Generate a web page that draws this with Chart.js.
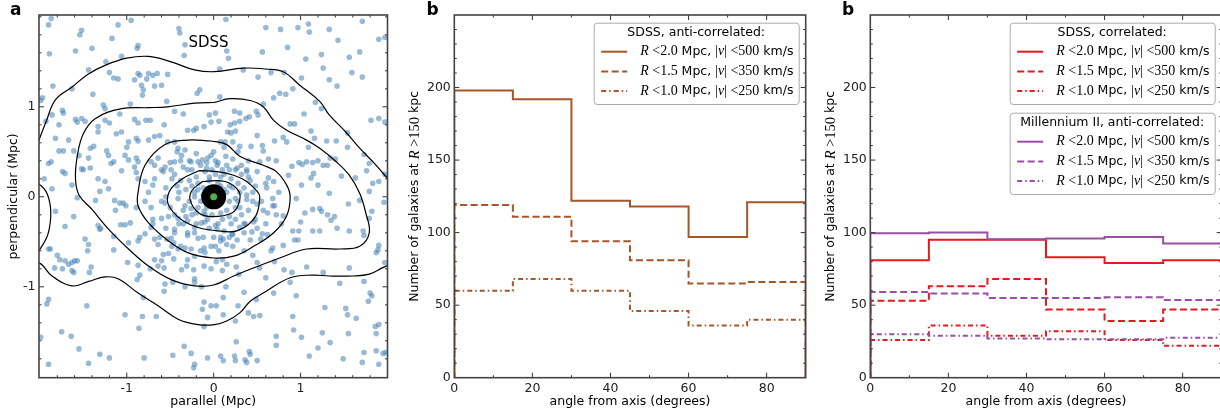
<!DOCTYPE html>
<html>
<head>
<meta charset="utf-8">
<script src="https://cdn.jsdelivr.net/npm/chart.js@4.4.1/dist/chart.umd.min.js"></script>
<style>
  html, body { margin: 0; padding: 0; background: #fff; overflow: hidden; width: 1220px; height: 414px; }
  canvas { position: absolute; top: 0; }
</style>
</head>
<body>
<canvas id="chartA" width="400" height="414" style="left:0"></canvas>
<canvas id="chartB" width="410" height="414" style="left:400px"></canvas>
<canvas id="chartC" width="420" height="414" style="left:810px"></canvas>
<script>
// ---- dados ----
const binEdges = [0, 15, 30, 45, 60, 75, 90];
const sdssAnti20 = [198, 192, 122, 118, 97, 121];
const sdssAnti15 = [119, 111, 94, 81, 65, 66];
const sdssAnti10 = [60, 68, 60, 46, 36, 40];
const sdssCorr20 = [81, 95, 95, 83, 79, 81];
const sdssCorr15 = [53, 63, 68, 47, 39, 47];
const sdssCorr10 = [26, 36, 29, 32, 26, 22];
const millAnti20 = [99.5, 100, 95.5, 96, 97, 92.5];
const millAnti15 = [59, 58, 55, 55, 55.5, 53.5];
const millAnti10 = [30, 29, 27, 26.5, 26.5, 27.5];

const angleTicks = [0, 20, 40, 60, 80];
const angleMinor = [10, 30, 50, 70, 90];
const countTicks = [0, 50, 100, 150, 200];
const countMinor = [10, 20, 30, 40, 60, 70, 80, 90, 110, 120, 130, 140, 160, 170, 180, 190, 210, 220, 230, 240, 250];
const mpcTicks = [-1, 0, 1];
const mpcMinor = [-2, -1.8, -1.6, -1.4, -1.2, -0.8, -0.6, -0.4, -0.2, 0.2, 0.4, 0.6, 0.8, 1.2, 1.4, 1.6, 1.8, 2];

// galáxias (parallel, perpendicular) em Mpc
const galaxies = [
  [-1.87,1.98],[-1.90,1.91],[-1.52,1.85],[-1.54,1.80],[-1.10,1.91],[-0.95,1.96],[-0.40,1.87],[-0.39,1.82],[-1.17,1.76],[-0.87,1.68],
  [-0.88,1.65],[-1.40,1.65],[-1.59,1.62],[-1.89,1.59],[-1.06,1.56],[-0.34,1.57],[-0.33,1.69],[-1.24,1.50],[-1.44,1.41],[-1.20,1.38],
  [-0.87,1.37],[-0.85,1.35],[-0.75,1.37],[-0.70,1.35],[-0.65,1.37],[-0.53,1.36],[-1.15,1.32],[-1.10,1.31],[-0.91,1.30],[-0.83,1.24],
  [-0.77,1.31],[-0.68,1.23],[-0.60,1.24],[-1.85,1.23],[-1.63,1.20],[-1.39,1.14],[-0.81,1.19],[-0.82,1.13],[-0.19,1.15],[-0.16,1.19],
  [-1.97,1.10],[-1.99,1.07],[-1.27,1.02],[-1.25,0.98],[-0.96,1.03],[-0.54,1.06],[-0.45,0.95],[-0.35,0.92],[-1.74,0.96],[-1.73,0.93],
  [-1.93,0.84],[-1.86,0.91],[-1.59,0.86],[-1.57,0.83],[-1.52,0.87],[-1.48,0.84],[-1.25,0.85],[-1.20,0.82],[-1.08,0.92],[-0.91,0.86],
  [-0.87,0.82],[-0.78,0.85],[-0.73,0.85],[-0.57,0.80],[-0.30,0.74],[-0.23,0.74],[-0.20,0.76],[-0.11,0.78],[-0.03,0.83],[-0.05,0.91],
  [-1.33,0.78],[-1.33,0.72],[-1.12,0.70],[-1.06,0.72],[-0.98,0.61],[-0.89,0.65],[-0.87,0.62],[-0.75,0.63],[-0.68,0.67],[-0.62,0.68],
  [-1.67,0.63],[-1.78,0.51],[-1.73,0.51],[-1.61,0.51],[-1.42,0.54],[-1.38,0.56],[-1.23,0.51],[-1.21,0.46],[-1.00,0.55],[-1.02,0.46],
  [-0.89,0.43],[-0.87,0.39],[-0.98,0.41],[-1.15,0.39],[-1.18,0.37],[-1.52,0.31],[-1.50,0.30],[-1.42,0.32],[-1.74,0.28],[-1.71,0.26],
  [-1.95,0.20],[-1.86,0.09],[-1.63,0.13],[-1.33,0.20],[-1.25,0.17],[-1.21,0.09],[-1.31,0.06],[-1.06,0.29],[-0.91,0.33],[-0.89,0.27],
  [-0.87,0.20],[-0.79,0.17],[-0.68,0.20],[-0.70,0.13],[-0.56,0.33],[-0.58,0.28],[-0.49,0.30],[-0.45,0.39],[-0.37,0.46],[-0.33,0.52],
  [-0.41,0.54],[-0.53,0.61],[-0.45,0.61],[-0.26,0.39],[-0.18,0.39],[-0.13,0.41],[-0.07,0.43],[-0.03,0.46],[-0.64,0.43],[-0.72,0.39],
  [-1.87,0.39],[-1.90,0.37],[-1.55,0.46],[-1.44,0.43],[-1.82,0.65],[-1.78,0.80],
  [-0.45,0.25],[-0.38,0.18],[-0.30,0.30],[-0.25,0.12],[-0.20,0.22],[-0.15,0.35],[-0.10,0.28],[-0.05,0.18],[-0.32,0.08],[-0.40,0.05],
  [-0.22,0.05],[-0.12,0.10],[-0.55,0.10],[-0.60,0.30],[-0.50,0.38],[-0.28,0.40],[-0.18,0.15],[-0.08,0.38],[-0.35,0.33],[-0.02,0.30],
  [0.14,1.97],[0.60,1.88],[0.77,1.86],[0.97,1.88],[1.09,1.92],[1.10,1.83],[1.33,1.86],[1.43,1.74],[1.71,1.95],[1.90,1.75],
  [1.97,1.77],[0.15,1.62],[0.17,1.54],[0.56,1.61],[0.85,1.66],[1.24,1.58],[1.06,1.53],[1.56,1.55],[1.68,1.61],[0.07,1.42],
  [0.34,1.41],[0.66,1.38],[0.81,1.38],[1.26,1.43],[1.33,1.30],[1.42,1.23],[1.59,1.38],[1.71,1.33],[0.51,1.33],[1.01,1.32],
  [0.69,1.10],[0.76,1.15],[0.83,1.14],[0.91,1.20],[1.17,1.05],[1.24,0.98],[0.07,1.11],[0.57,1.03],[0.24,0.95],[0.30,0.93],
  [0.24,0.82],[0.30,0.84],[0.37,0.87],[0.41,0.89],[0.49,0.95],[0.51,0.91],[0.02,0.93],[0.06,0.84],[0.19,0.80],[0.16,0.72],
  [0.20,0.71],[0.25,0.73],[0.88,0.81],[0.93,0.81],[1.04,0.92],[1.12,0.73],[1.54,0.71],[1.81,0.85],[1.90,0.87],[1.97,0.83],
  [0.08,0.61],[0.13,0.61],[0.22,0.61],[0.30,0.56],[0.43,0.56],[0.50,0.68],[0.56,0.57],[0.70,0.62],[0.80,0.66],[0.84,0.61],
  [1.16,0.65],[1.30,0.62],[1.41,0.62],[1.09,0.55],[1.54,0.55],[1.40,0.42],[0.57,0.51],[0.63,0.42],[0.72,0.40],[0.90,0.34],
  [0.98,0.38],[1.02,0.36],[1.15,0.26],[1.12,0.21],[1.07,0.39],[1.14,0.38],[1.20,0.40],[1.26,0.35],[1.31,0.35],[1.34,0.43],
  [1.01,0.13],[1.20,0.13],[1.47,0.23],[1.63,0.21],[1.73,0.47],[1.79,0.37],[1.76,0.29],[1.83,0.15],[1.90,0.17],[1.97,0.25],
  [1.79,0.06],[1.33,0.04],[0.02,0.40],[0.04,0.35],[0.27,0.32],[0.38,0.28],[0.63,0.21],[0.61,0.10],[0.69,0.17],[0.86,0.24],
  [0.53,0.39],
  [0.05,0.15],[0.12,0.25],[0.20,0.20],[0.28,0.15],[0.35,0.10],[0.42,0.18],[0.15,0.35],[0.25,0.30],[0.32,0.25],[0.45,0.05],
  [0.38,0.30],[0.08,0.22],[0.18,0.12],[0.30,0.05],[0.50,0.28],[0.22,0.42],[0.10,0.30],[0.40,0.40],
  [-1.82,-0.16],[-1.61,-0.22],[-1.71,-0.33],[-1.31,-0.36],[-1.48,-0.47],[-1.44,-0.53],[-1.45,-0.60],[-1.15,-0.59],[-1.88,-0.58],[-1.90,-0.58],
  [-1.80,-0.65],[-1.77,-0.70],[-1.71,-0.71],[-1.67,-0.75],[-1.63,-0.73],[-1.60,-0.71],[-1.57,-0.71],[-1.63,-0.82],[-1.61,-0.84],[-1.74,-0.80],
  [-1.83,-0.79],[-1.41,-0.78],[-1.43,-0.84],[-0.99,-0.73],[-0.87,-0.76],[-0.85,-0.87],[-0.88,-0.92],[-1.90,-1.14],[-1.92,-1.19],[-1.46,-1.21],
  [-1.02,-1.31],[-0.81,-1.12],[-0.86,-1.46],[-0.82,-1.33],[-0.66,-1.33],[-1.99,-1.56],[-1.75,-1.50],[-1.64,-1.55],[-1.55,-1.69],[-1.31,-1.75],
  [-1.20,-1.79],[-1.44,-1.85],[-1.90,-1.86],[-0.80,-1.79],[-0.47,-1.76],[-0.34,-1.66],[-0.26,-1.74],[-0.22,-1.86],[-0.23,-1.90],[-0.07,-1.79],
  [-0.56,-0.97],[-0.57,-1.05],[-0.47,-0.95],[-0.33,-1.00],[-0.22,-0.95],[-0.22,-0.91],[-0.14,-1.00],[-0.11,-1.17],[-0.03,-1.21],[-0.13,-1.25],
  [-0.11,-1.44],[-0.07,-1.34],[-1.13,-0.15],[-1.07,-0.31],[-1.02,-0.31],[-0.96,-0.29],[-1.08,-0.07],[-1.14,-0.04],[-1.04,-0.07],[-1.01,-0.10],
  [-0.89,-0.12],[-1.33,-0.32],[-1.30,-0.35],[-1.36,-0.04],[-1.57,-0.01],[-0.68,-0.47],[-0.64,-0.53],[-0.54,-0.47],[-0.49,-0.46],[-0.46,-0.51],
  [-0.58,-0.64],[-0.52,-0.63],[-0.46,-0.69],[-0.41,-0.58],[-0.33,-0.57],[-0.26,-0.58],[-0.22,-0.66],[-0.11,-0.57],[-0.03,-0.55],[-0.60,-0.71],
  [-0.57,-0.79],[-0.64,-0.77],[-0.73,-0.80],[-0.68,-0.70],[-0.37,-0.81],[-0.31,-0.77],[-0.23,-0.81],[-0.11,-0.77],[-0.03,-0.80],[-0.87,-0.49],
  [-0.85,-0.45],[-0.79,-0.41],[-0.72,-0.34],[-0.70,-0.25],[-0.60,-0.24],[-0.52,-0.22],[-0.41,-0.24],[-0.30,-0.27],[-0.22,-0.34],[-0.14,-0.29],
  [-0.07,-0.25],[-0.11,-0.16],[-0.03,-0.10],[-0.72,-0.12],[-0.79,-0.05],[-0.56,-0.07],[-0.33,-0.10],[-0.41,-0.02],[-0.26,-0.13],[-0.98,-0.51],
  [-1.15,-0.44],[-0.45,-0.36],[-0.30,-0.43],[-0.18,-0.46],
  [-0.15,-0.05],[-0.25,-0.20],[-0.35,-0.15],[-0.10,-0.20],[-0.20,-0.30],[-0.05,-0.35],[-0.40,-0.30],[-0.30,-0.40],[-0.12,-0.45],[-0.50,-0.12],
  [-0.45,-0.40],[-0.08,-0.12],[-0.18,-0.12],[-0.28,-0.05],[-0.55,-0.35],[-0.60,-0.05],[-0.38,-0.55],[-0.15,-0.60],
  [0.38,-0.03],[0.50,-0.08],[0.57,-0.15],[0.62,-0.18],[0.68,-0.02],[0.70,-0.10],[0.72,-0.20],[0.80,-0.21],[0.95,-0.02],[1.05,-0.18],
  [1.14,-0.14],[1.22,-0.13],[1.24,-0.16],[1.31,-0.20],[1.35,-0.26],[1.39,-0.22],[1.42,-0.35],[1.55,-0.08],[1.68,-0.04],[1.82,-0.16],
  [1.96,-0.06],[1.79,-0.24],[1.00,-0.28],[0.98,-0.38],[0.91,-0.38],[1.14,-0.38],[1.22,-0.38],[1.56,-0.38],[1.72,-0.38],[1.73,-0.43],
  [0.97,-0.48],[0.93,-0.48],[0.80,-0.54],[0.66,-0.60],[0.68,-0.57],[0.54,-0.47],[0.56,-0.41],[0.44,-0.39],[0.46,-0.28],[0.36,-0.30],
  [0.30,-0.34],[0.21,-0.41],[0.15,-0.53],[0.22,-0.55],[0.27,-0.48],[0.18,-0.45],[0.11,-0.47],[0.08,-0.49],[0.04,-0.36],[0.02,-0.55],
  [0.06,-0.60],[0.03,-0.72],[0.10,-0.82],[0.15,-0.75],[0.26,-0.78],[0.29,-0.86],[0.50,-0.73],[0.53,-0.79],[0.70,-0.72],[0.81,-0.81],
  [0.90,-0.84],[1.07,-0.78],[1.26,-0.84],[1.56,-0.79],[1.73,-0.94],[1.89,-0.59],[1.87,-0.62],[1.90,-0.54],[1.97,-0.73],[0.14,-1.00],
  [0.11,-1.12],[0.35,-1.06],[0.03,-1.21],[0.28,-1.21],[0.49,-1.14],[0.60,-0.90],[0.69,-1.07],[0.88,-0.95],[0.95,-1.10],[1.45,-0.96],
  [1.80,-1.07],[1.82,-1.10],[1.78,-1.16],[1.28,-1.23],[1.52,-1.24],[1.54,-1.31],[1.64,-1.35],[0.40,-1.29],[0.46,-1.33],[0.53,-1.32],
  [0.11,-1.31],[0.25,-1.38],[0.91,-1.33],[0.92,-1.48],[1.25,-1.51],[1.34,-1.62],[1.55,-1.52],[1.86,-1.44],[1.87,-1.52],[1.90,-1.42],
  [1.98,-1.73],[1.95,-1.74],[1.87,-1.71],[1.73,-1.73],[1.90,-1.86],[0.72,-1.55],[0.72,-1.65],[1.01,-1.56],[1.20,-1.68],[1.49,-1.80],
  [1.71,-1.84],[0.26,-1.61],[0.41,-1.72],[0.42,-1.75],[0.36,-1.81],[0.38,-1.84],[0.50,-1.82],[0.11,-1.82],[0.25,-1.82],[0.08,-1.77],
  [0.24,-1.77],[1.10,-1.77],
  [0.05,-0.10],[0.15,-0.15],[0.25,-0.12],[0.10,-0.25],[0.20,-0.30],[0.32,-0.20],[0.40,-0.15],[0.12,-0.38],[0.05,-0.30],[0.28,-0.05],
  [0.45,-0.05],[0.18,-0.05],[0.35,-0.40],[0.50,-0.35],[0.08,-0.45],[0.25,-0.25],[0.42,-0.48],[0.60,-0.30],
  [-0.05,0.22],[0.02,0.25],[0.08,0.12],[0.15,0.05],[0.22,0.10],[0.25,-0.02],[0.18,-0.22],[0.08,-0.18],[-0.02,-0.20],[-0.10,-0.28],
  [-0.20,-0.18],[-0.22,0.00],[-0.18,0.08],[-0.28,0.18],[-0.08,0.32],[0.05,0.38],[0.18,0.30],[0.32,0.35],[0.40,0.22],[0.48,0.12],
  [0.55,-0.05],[0.48,-0.25],[0.35,-0.30],[0.22,-0.42],[0.00,-0.45],[-0.22,-0.40],[-0.35,-0.30],[-0.45,-0.20],[-0.55,0.00],[-0.48,0.20],
  [-0.38,0.40],[-0.20,0.48],[0.00,0.50],[0.28,0.50],[0.60,0.15],[0.68,-0.10],[0.62,-0.42],[0.35,-0.60],[-0.10,-0.62],[-0.48,-0.55],
  [-0.70,-0.30],[-0.75,0.05],[-0.68,0.35],[-0.42,0.50],[0.12,0.55],[0.75,0.05],[0.78,-0.30],[-0.62,-0.45],[-0.30,-0.70],[0.10,-0.70],
  [0.45,-0.65],[0.12,0.08],[-0.12,0.02],[0.30,-0.12],[-0.32,-0.22],[0.38,0.02],[-0.42,0.12],[0.02,-0.32],[0.14,0.45],[-0.25,0.30]
];

// contornos de densidade (Mpc)
const contourOuterTop = [[-2.03,0.58],[-1.93,0.83],[-1.82,1.08],[-1.63,1.22],[-1.45,1.36],[-1.25,1.46],[-1.0,1.54],[-0.75,1.56],[-0.49,1.50],[-0.22,1.41],[0.01,1.39],[0.34,1.43],[0.6,1.42],[0.8,1.39],[0.99,1.24],[1.22,1.06],[1.33,0.91],[1.52,0.72],[1.68,0.54],[1.87,0.35],[2.03,0.17]];
const contourOuterLeft = [[-2.03,0.16],[-1.93,0.06],[-1.88,-0.1],[-1.88,-0.28],[-1.92,-0.45],[-2.03,-0.63]];
const contourOuterBottom = [[-2.03,-0.72],[-1.97,-0.76],[-1.86,-0.88],[-1.63,-0.99],[-1.44,-0.94],[-1.25,-0.89],[-1.10,-0.91],[-0.87,-1.07],[-0.64,-1.21],[-0.41,-1.36],[-0.18,-1.42],[0.01,-1.42],[0.15,-1.38],[0.30,-1.29],[0.42,-1.16],[0.57,-1.07],[0.88,-0.90],[1.14,-0.87],[1.33,-0.88],[1.6,-0.88],[1.79,-0.86],[1.94,-0.79],[2.03,-0.75]];
const contour2 = [[0.01,1.05],[0.19,1.09],[0.42,1.07],[0.57,1.0],[0.69,0.85],[0.84,0.74],[1.03,0.65],[1.22,0.54],[1.41,0.39],[1.56,0.24],[1.68,0.04],[1.75,-0.18],[1.79,-0.40],[1.68,-0.55],[1.45,-0.58],[1.07,-0.58],[0.76,-0.68],[0.46,-0.79],[0.23,-0.88],[0.0,-0.98],[-0.22,-0.99],[-0.49,-0.92],[-0.75,-0.77],[-0.98,-0.58],[-1.21,-0.36],[-1.40,-0.14],[-1.55,0.02],[-1.59,0.2],[-1.57,0.45],[-1.5,0.7],[-1.36,0.87],[-1.06,0.98],[-0.75,0.99],[-0.53,1.0],[-0.22,1.04],[0.01,1.05]];
const contour3 = [[-0.03,0.62],[0.15,0.58],[0.30,0.45],[0.57,0.35],[0.72,0.28],[0.84,0.13],[0.88,0.0],[0.84,-0.21],[0.69,-0.40],[0.46,-0.55],[0.23,-0.66],[0.0,-0.68],[-0.30,-0.62],[-0.52,-0.49],[-0.75,-0.29],[-0.87,-0.10],[-0.87,0.05],[-0.79,0.35],[-0.56,0.58],[-0.30,0.63],[-0.03,0.62]];
const contour4 = [[-0.17,0.29],[0.04,0.28],[0.23,0.24],[0.38,0.17],[0.50,0.06],[0.53,0],[0.48,-0.22],[0.29,-0.37],[0.06,-0.38],[-0.29,-0.30],[-0.51,-0.11],[-0.51,0.06],[-0.36,0.20],[-0.17,0.29]];
const contour5 = [[-0.13,0.17],[0.13,0.17],[0.29,0.06],[0.29,-0.07],[0.21,-0.18],[-0.02,-0.22],[-0.17,-0.18],[-0.27,-0.04],[-0.25,0.07],[-0.13,0.17]];

// ---- estilos ----
const SANS = '"DejaVu Sans", sans-serif';
const SERIF = '"Liberation Serif", serif';
const BROWN = '#a65628';
const RED = '#e41a1c';
const PURPLE = '#984ea3';
const DASHED = [7, 3.5];
const DASHDOT = [5, 3, 1.5, 3];

function xy(list) {
  return list.map(p => ({ x: p[0], y: p[1] }));
}

function stepPoints(values) {
  const last = binEdges[binEdges.length - 1];
  const pts = [{ x: binEdges[0], y: 0 }];
  values.forEach((v, i) => pts.push({ x: binEdges[i], y: v }));
  pts.push({ x: last, y: values[values.length - 1] });
  pts.push({ x: last, y: 0 });
  return pts;
}

function stepSet(values, color, dash) {
  return {
    data: stepPoints(values), showLine: true, stepped: true,
    borderColor: color, borderWidth: 2, borderDash: dash,
    pointRadius: 0, fill: false
  };
}

function contourSet(list) {
  return {
    data: xy(list), showLine: true, tension: 0.4,
    borderColor: '#000', borderWidth: 1.2, pointRadius: 0, fill: false
  };
}

// texto com fontes misturadas (para o modo matemático)
function richWidth(ctx, parts) {
  let w = 0;
  parts.forEach(p => { ctx.font = p.f; w += ctx.measureText(p.t).width; });
  return w;
}
function drawRich(ctx, parts, x, y, align) {
  let cx = align === 'center' ? x - richWidth(ctx, parts) / 2 : x;
  ctx.textAlign = 'left';
  ctx.textBaseline = 'middle';
  parts.forEach(p => {
    ctx.font = p.f;
    ctx.fillText(p.t, cx, y);
    cx += ctx.measureText(p.t).width;
  });
}
function mathLabel(r, v) {
  return [
    { t: 'R', f: 'italic 14px ' + SERIF },
    { t: ' <' + r, f: '14px ' + SERIF },
    { t: ' Mpc, ', f: '12.5px ' + SANS },
    { t: '|', f: '14px ' + SERIF },
    { t: 'v', f: 'italic 14px ' + SERIF },
    { t: '| <' + v, f: '14px ' + SERIF },
    { t: ' km/s', f: '12.5px ' + SANS }
  ];
}
const yLabelCount = [
  { t: 'Number of galaxies at ', f: '12.5px ' + SANS },
  { t: 'R', f: 'italic 14.5px ' + SERIF },
  { t: ' >150', f: '14.5px ' + SERIF },
  { t: ' kpc', f: '12.5px ' + SANS }
];

function drawLegend(ctx, left, top, title, color) {
  const w = 205, h = 81.3;
  ctx.save();
  ctx.fillStyle = 'rgba(255,255,255,0.85)';
  ctx.strokeStyle = '#aaa';
  ctx.lineWidth = 1;
  ctx.beginPath();
  ctx.roundRect(left + 0.5, top + 0.5, w, h, 3);
  ctx.fill();
  ctx.stroke();
  ctx.fillStyle = '#000';
  ctx.font = '12.5px ' + SANS;
  ctx.textAlign = 'center';
  ctx.textBaseline = 'middle';
  ctx.fillText(title, left + w / 2, top + 10.5);
  const rows = [['2.0', '500', []], ['1.5', '350', DASHED], ['1.0', '250', DASHDOT]];
  rows.forEach((r, i) => {
    const y = top + 29 + i * 19.7;
    ctx.strokeStyle = color;
    ctx.lineWidth = 2;
    ctx.setLineDash(r[2]);
    ctx.beginPath();
    ctx.moveTo(left + 7.5, y);
    ctx.lineTo(left + 33.5, y);
    ctx.stroke();
    ctx.setLineDash([]);
    ctx.fillStyle = '#000';
    drawRich(ctx, mathLabel(r[0], r[1]), left + 46.5, y, 'left');
  });
  ctx.restore();
}

// moldura e ticks para dentro, nos quatro lados
function axesFrame(xMajor, xMinor, yMajor, yMinor) {
  return {
    id: 'axesFrame',
    afterDatasetsDraw(chart) {
      const { ctx, chartArea: a } = chart;
      const sx = chart.scales.x, sy = chart.scales.y;
      ctx.save();
      ctx.strokeStyle = '#333';
      ctx.lineWidth = 1;
      ctx.beginPath();
      const xMarks = (vals, len) => vals.forEach(v => {
        const p = sx.getPixelForValue(v);
        if (p < a.left + 1 || p > a.right - 1) return;
        ctx.moveTo(p, a.bottom); ctx.lineTo(p, a.bottom - len);
        ctx.moveTo(p, a.top); ctx.lineTo(p, a.top + len);
      });
      const yMarks = (vals, len) => vals.forEach(v => {
        const p = sy.getPixelForValue(v);
        if (p < a.top + 1 || p > a.bottom - 1) return;
        ctx.moveTo(a.left, p); ctx.lineTo(a.left + len, p);
        ctx.moveTo(a.right, p); ctx.lineTo(a.right - len, p);
      });
      xMarks(xMajor, 5); xMarks(xMinor, 2.5);
      yMarks(yMajor, 5); yMarks(yMinor, 2.5);
      ctx.stroke();
      ctx.lineWidth = 1.6;
      ctx.strokeStyle = '#444';
      ctx.strokeRect(a.left, a.top, a.right - a.left, a.bottom - a.top);
      ctx.restore();
    }
  };
}

function axes(xr, yr, xTicks, yTicks, yWidth, fmt) {
  const tickFont = { family: SANS, size: 12.5 };
  return {
    x: {
      type: 'linear', min: xr[0], max: xr[1],
      afterBuildTicks: s => { s.ticks = xTicks.map(v => ({ value: v })); },
      afterFit: s => { s.height = 36.3; },
      grid: { display: false, drawTicks: false }, border: { display: false },
      ticks: { font: tickFont, color: '#222', padding: 4, maxRotation: 0, callback: fmt }
    },
    y: {
      type: 'linear', min: yr[0], max: yr[1],
      afterBuildTicks: s => { s.ticks = yTicks.map(v => ({ value: v })); },
      afterFit: s => { s.width = yWidth; },
      grid: { display: false, drawTicks: false }, border: { display: false },
      ticks: { font: tickFont, color: '#222', padding: 3.5, callback: fmt }
    }
  };
}

const baseOptions = (scales, padRight) => ({
  responsive: false, animation: false,
  layout: { padding: { left: 0, right: padRight, top: 15, bottom: 0 } },
  plugins: { legend: { display: false }, tooltip: { enabled: false } },
  scales
});

const plainFmt = v => String(v);

// ---- painel a ----
new Chart(document.getElementById('chartA'), {
  type: 'scatter',
  data: {
    datasets: [
      { data: [{ x: 0, y: 0 }], pointRadius: 3.5, backgroundColor: '#4daf4a', borderWidth: 0 },
      { data: [{ x: 0, y: 0 }], pointRadius: 12.5, backgroundColor: '#000', borderWidth: 0 },
      contourSet(contour5), contourSet(contour4), contourSet(contour3), contourSet(contour2),
      contourSet(contourOuterTop), contourSet(contourOuterLeft), contourSet(contourOuterBottom),
      { data: xy(galaxies), pointRadius: 2.8, backgroundColor: 'rgba(70,130,180,0.55)', borderWidth: 0 }
    ]
  },
  options: baseOptions(axes([-2.01, 2.0], [-2.01, 2.02], mpcTicks, mpcTicks, 39, plainFmt), 10),
  plugins: [axesFrame(mpcTicks, mpcMinor, mpcTicks, mpcMinor), {
    id: 'textA',
    afterDraw(chart) {
      const { ctx, chartArea: a } = chart;
      ctx.save();
      ctx.fillStyle = '#000';
      ctx.textAlign = 'center';
      ctx.textBaseline = 'middle';
      ctx.font = '15px ' + SANS;
      ctx.fillText('SDSS', chart.scales.x.getPixelForValue(-0.06), chart.scales.y.getPixelForValue(1.71));
      ctx.font = '12.5px ' + SANS;
      ctx.fillText('parallel (Mpc)', (a.left + a.right) / 2, 402);
      ctx.translate(13.5, (a.top + a.bottom) / 2);
      ctx.rotate(-Math.PI / 2);
      ctx.fillText('perpendicular (Mpc)', 0, 0);
      ctx.restore();
      ctx.save();
      ctx.font = 'bold 17px ' + SANS;
      ctx.textBaseline = 'middle';
      ctx.fillText('a', 10, 11);
      ctx.restore();
    }
  }]
});

// ---- painel b (esquerda) e c (direita) ----
function histChart(id, datasets, yWidth, padRight, letterX, legends) {
  new Chart(document.getElementById(id), {
    type: 'scatter',
    data: { datasets },
    options: baseOptions(axes([0, 90], [0, 250], angleTicks, countTicks, yWidth, plainFmt), padRight),
    plugins: [axesFrame(angleTicks, angleMinor, countTicks, countMinor), {
      id: 'text' + id,
      afterDraw(chart) {
        const { ctx, chartArea: a } = chart;
        ctx.save();
        ctx.fillStyle = '#000';
        ctx.textAlign = 'center';
        ctx.textBaseline = 'middle';
        ctx.font = '12.5px ' + SANS;
        ctx.fillText('angle from axis (degrees)', (a.left + a.right) / 2, 402);
        ctx.save();
        ctx.translate(yWidth - 39.5, (a.top + a.bottom) / 2);
        ctx.rotate(-Math.PI / 2);
        drawRich(ctx, yLabelCount, 0, 0, 'center');
        ctx.restore();
        ctx.font = 'bold 17px ' + SANS;
        ctx.textAlign = 'left';
        ctx.fillText('b', letterX, 11);
        ctx.restore();
        legends.forEach(l => drawLegend(ctx, a.right - 212, a.top + 7.7 + l.offset, l.title, l.color));
      }
    }]
  });
}

histChart('chartB', [
  stepSet(sdssAnti20, BROWN, []),
  stepSet(sdssAnti15, BROWN, DASHED),
  stepSet(sdssAnti10, BROWN, DASHDOT)
], 54.3, 4.3, 26.5, [{ title: 'SDSS, anti-correlated:', color: BROWN, offset: 0 }]);

histChart('chartC', [
  stepSet(millAnti20, PURPLE, []),
  stepSet(sdssCorr20, RED, []),
  stepSet(millAnti15, PURPLE, DASHED),
  stepSet(sdssCorr15, RED, DASHED),
  stepSet(millAnti10, PURPLE, DASHDOT),
  stepSet(sdssCorr10, RED, DASHDOT)
], 60.3, 8.3, 32, [
  { title: 'SDSS, correlated:', color: RED, offset: 0 },
  { title: 'Millennium II, anti-correlated:', color: PURPLE, offset: 90 }
]);
</script>
</body>
</html>
